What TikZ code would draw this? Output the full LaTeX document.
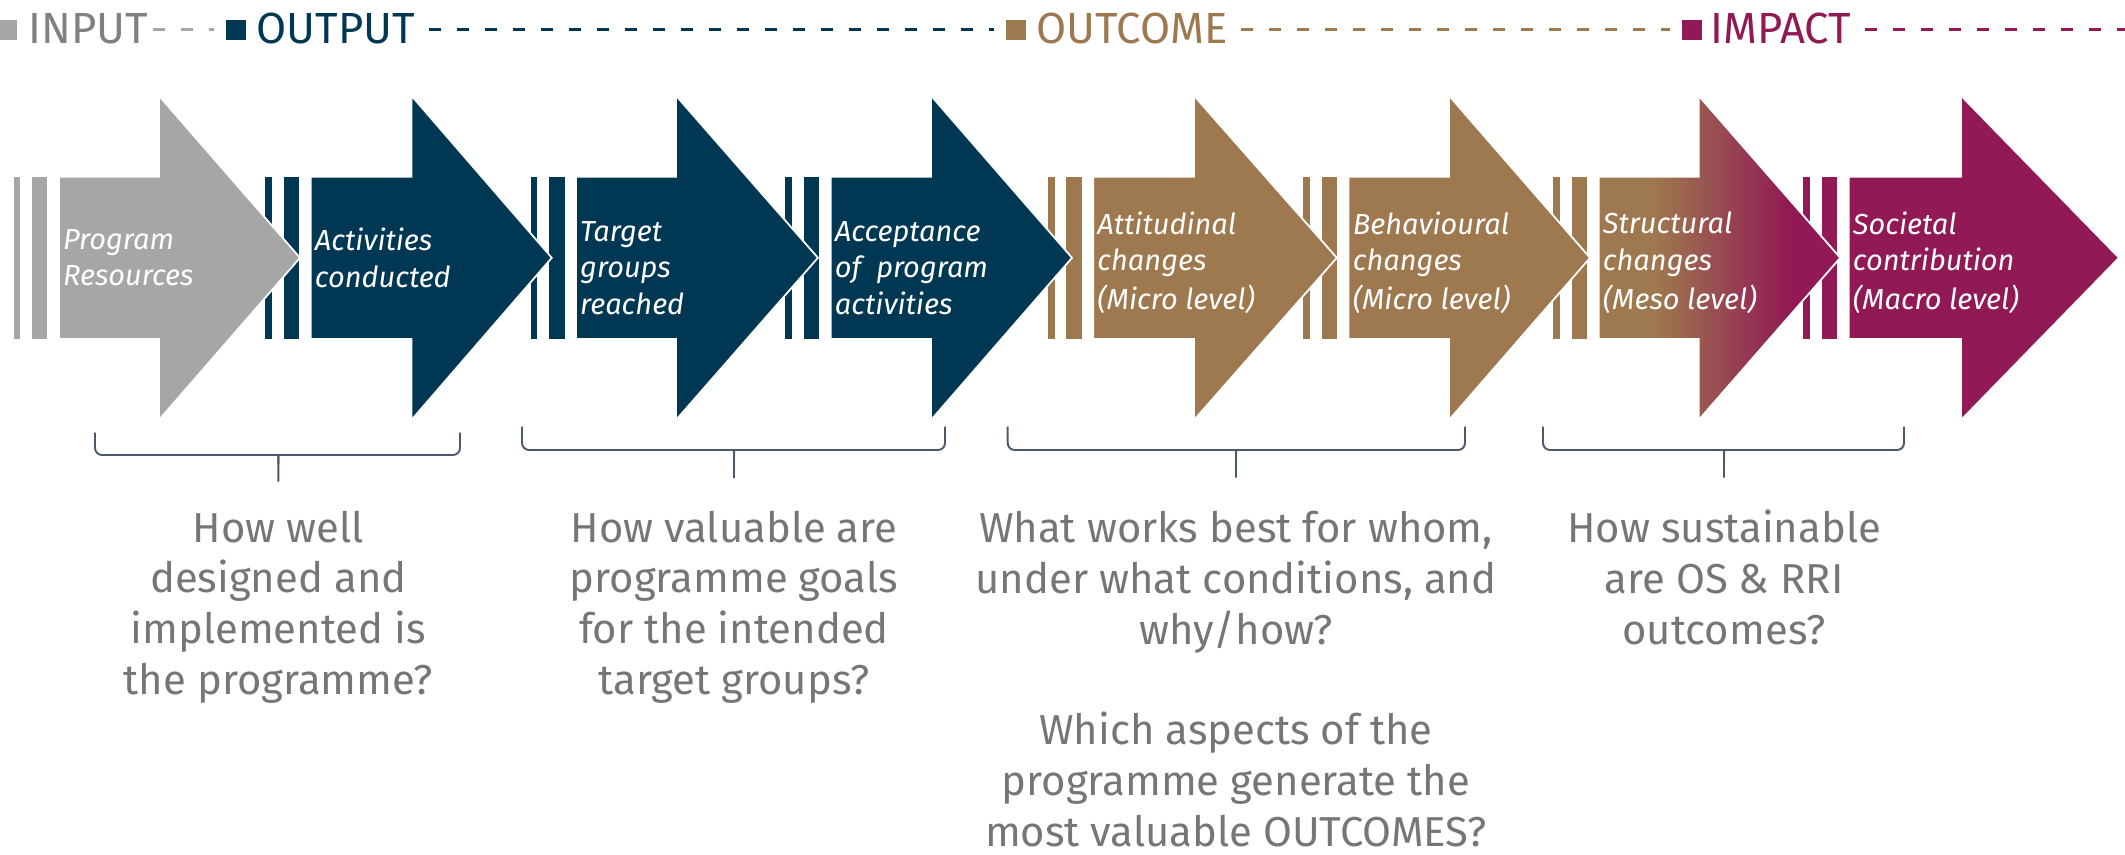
\documentclass[tikz,border=0pt]{standalone}
\usepackage{fontspec}
\setmainfont{Fira Sans}
\usetikzlibrary{calc}

\definecolor{inpgray}{RGB}{166,166,166}
\definecolor{inptext}{RGB}{128,128,128}
\definecolor{outnavy}{RGB}{0,56,84}
\definecolor{ocbrown}{RGB}{158,120,78}
\definecolor{impplum}{RGB}{145,25,85}
\definecolor{qgray}{RGB}{118,118,118}
\definecolor{bracecol}{RGB}{74,90,108}

% brown -> plum blend for the meso-level arrow
\pgfdeclarehorizontalshading{brownplum}{100bp}{color(0bp)=(ocbrown); color(36.6bp)=(ocbrown);
  color(64.6bp)=(impplum); color(100bp)=(impplum)}

\tikzset{
  legsq/.style   = {minimum size=0.2cm,inner sep=0pt},
  legtxt/.style  = {anchor=base west,inner sep=0pt,font=\fontsize{12.4}{14}\selectfont},
  legdash/.style = {line width=0.03cm,dash pattern=on 0.12cm off 0.16cm},
  arr/.style     = {draw=white,line width=0.5pt},
  arrgray/.style = {fill=inpgray},
  arrnavy/.style = {fill=outnavy},
  arrbrown/.style= {fill=ocbrown},
  arrblend/.style= {shade,shading=brownplum},
  arrplum/.style = {fill=impplum},
  lbl/.style     = {anchor=west,inner sep=1pt,align=left,text=white,
                    font=\fontsize{8.25}{10.4}\selectfont\itshape},
  brace/.style   = {draw=bracecol,line width=0.55pt,rounded corners=2pt},
  question/.style= {anchor=base,align=center,text=qgray,inner sep=0pt,
                    font=\fontsize{11.9}{14.37}\selectfont},
}

\begin{document}
\begin{tikzpicture}
  \useasboundingbox (0,0) rectangle (21.25,-8.55);

  % legend row
  \node[legsq,fill=inpgray]  (sqin)  at (0.07,-0.30)    {};
  \node[legtxt,text=inptext] (tin)   at (0.28,-0.433)   {INPUT};
  \node[legsq,fill=outnavy]  (sqout) at (2.36,-0.30)    {};
  \node[legtxt,text=outnavy] (tout)  at (2.56,-0.433)   {OUTPUT};
  \node[legsq,fill=ocbrown]  (sqoc)  at (10.155,-0.30)  {};
  \node[legtxt,text=ocbrown] (toc)   at (10.36,-0.433)  {OUTCOME};
  \node[legsq,fill=impplum]  (sqim)  at (16.915,-0.30)  {};
  \node[legtxt,text=impplum] (tim)   at (17.10,-0.433)  {IMPACT};
  \coordinate (rim) at (21.3,-0.30);
  \draw[legdash,inpgray] ([xshift=0.04cm]tin.east |- sqin) -- ([xshift=-0.11cm]sqout.west);
  \draw[legdash,outnavy] ([xshift=0.13cm]tout.east |- sqout) -- ([xshift=-0.11cm]sqoc.west);
  \draw[legdash,ocbrown] ([xshift=0.13cm]toc.east |- sqoc) -- ([xshift=-0.11cm]sqim.west);
  \draw[legdash,impplum] ([xshift=0.13cm]tim.east |- sqim) -- (rim);

  % stripes in front of every arrow
  \foreach \b/\col in {0.589/inpgray,3.107/outnavy,5.76/outnavy,8.307/outnavy,
                       10.932/ocbrown,13.486/ocbrown,15.987/ocbrown,18.487/impplum}{
    \fill[\col] (\b-0.453,-1.767) rectangle (\b-0.386,-3.39);
    \fill[\col] (\b-0.27,-1.767) rectangle (\b-0.115,-3.39);
  }

  % arrows with their labels
  \foreach \i/\b/\h/\t/\sty/\ly/\txt in {
    1/0.589/1.589/3.00/arrgray/-2.578/{Program\\Resources},
    2/3.107/4.114/5.518/arrnavy/-2.578/{Activities\\conducted},
    3/5.76/6.76/8.179/arrnavy/-2.678/{Target\\groups\\reached},
    4/8.307/9.31/10.72/arrnavy/-2.678/{Acceptance\\of\ \ program\\activities},
    5/10.932/11.94/13.368/arrbrown/-2.628/{Attitudinal\\changes\\[0.6pt](Micro level)},
    6/13.486/14.49/15.90/arrbrown/-2.628/{Behavioural\\changes\\[0.6pt](Micro level)},
    7/15.987/16.986/18.402/arrblend/-2.628/{Structural\\changes\\[0.6pt](Meso level)},
    8/18.487/19.61/21.19/arrplum/-2.628/{Societal\\contribution\\[0.6pt](Macro level)}}{
    \path[arr,\sty] (\b,-1.767) -- (\h,-1.767) -- (\h,-0.957) -- (\t,-2.578)
      -- (\h,-4.20) -- (\h,-3.39) -- (\b,-3.39) -- cycle;
    \node[lbl] (lab\i) at (\b,\ly) {\txt};
  }

  % braces under the groups
  \foreach \i/\l/\r/\tp/\ln/\bt/\tx in {
    1/0.95/4.60/-4.327/-4.55/-4.817/2.783,
    2/5.22/9.45/-4.267/-4.50/-4.78/7.34,
    3/10.077/14.65/-4.267/-4.50/-4.777/12.36,
    4/15.43/19.04/-4.267/-4.50/-4.777/17.24}{
    \draw[brace] (\l,\tp) |- (\tx-0.06,\ln) .. controls (\tx-0.01,\ln) and (\tx,\ln-0.02) .. (\tx,\ln-0.09) -- (\tx,\bt);
    \draw[brace] (\r,\tp) |- (\tx+0.06,\ln) .. controls (\tx+0.01,\ln) and (\tx,\ln-0.02) .. (\tx,\ln-0.09);
    \coordinate (tip\i) at (\tx,\bt);
  }

  % evaluation questions (base = last line)
  \node[question] (q1)  at (tip1 |- 0,-6.94) {How well\\designed and\\implemented is\\the programme?};
  \node[question] (q2)  at (tip2 |- 0,-6.94) {How valuable are\\programme goals\\for the intended\\target groups?};
  \node[question] (q3)  at (tip3 |- 0,-6.44) {What works best for whom,\\under what conditions, and\\why/how?};
  \node[question] (q3b) at (tip3 |- 0,-8.46) {Which aspects of the\\programme generate the\\most valuable OUTCOMES?};
  \node[question] (q4)  at (tip4 |- 0,-6.44) {How sustainable\\are OS \& RRI\\outcomes?};
\end{tikzpicture}
\end{document}
